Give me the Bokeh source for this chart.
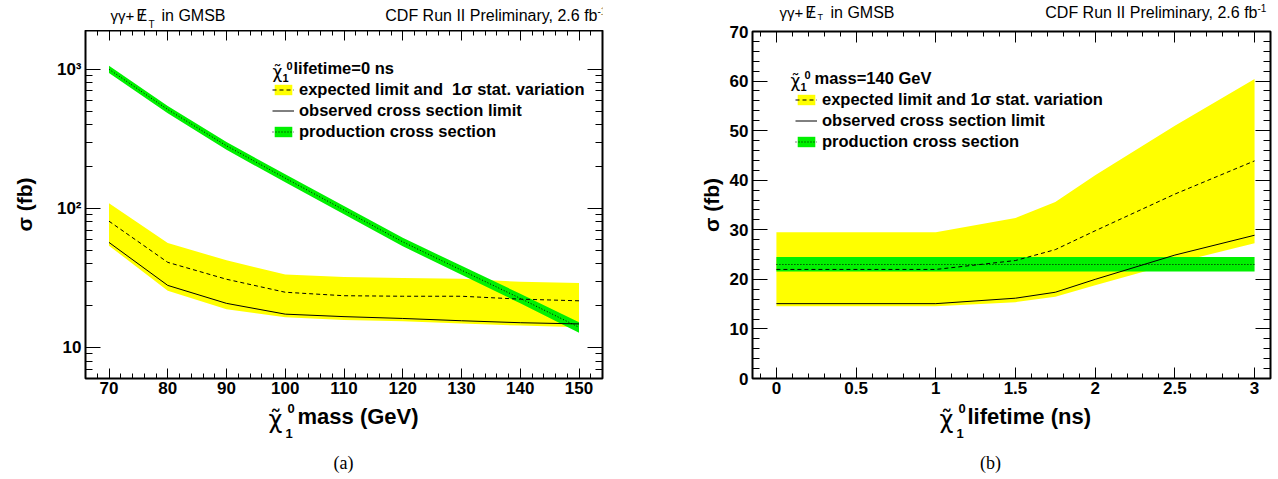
import math
from bokeh.plotting import figure
from bokeh.models import (Label, Legend, LegendItem, LinearAxis, LogAxis, FixedTicker,
                          SingleIntervalTicker, NumeralTickFormatter, Range1d,
                          CustomJSTickFormatter)
from bokeh.layouts import row, column
from bokeh.embed import file_html
from bokeh.resources import INLINE

# ---------------- data: (a) limits vs neutralino mass, lifetime = 0 ns ----------------
mass = [70, 80, 90, 100, 110, 120, 130, 140, 150]
mass_expected = [81, 41, 31, 25, 23.6, 23.4, 23.4, 22.3, 21.7]
mass_observed = [57, 28, 20.8, 17.4, 16.7, 16.2, 15.6, 15.1, 14.8]
mass_exp_hi = [109, 56.5, 42.4, 33.6, 32.2, 31.6, 31.2, 29.7, 29.1]
mass_exp_lo = [54, 25.6, 18.9, 16.5, 15.8, 15.5, 14.9, 14.4, 14.0]
mass_prod = [1000, 514, 282, 165, 97.5, 57.5, 36, 22.6, 14.0]
mass_prod_hi = [1060, 545, 300, 176, 104, 61.5, 38.7, 24.4, 15.2]
mass_prod_lo = [940, 483, 264, 154, 91, 53.5, 33.4, 20.8, 12.8]

# ---------------- data: (b) limits vs neutralino lifetime, mass = 140 GeV ----------------
life = [0, 1, 1.5, 1.75, 2, 2.5, 3]
life_expected = [22.0, 22.0, 23.8, 26.0, 29.8, 37.2, 43.9]
life_observed = [15.1, 15.1, 16.2, 17.4, 20.0, 24.9, 28.9]
life_exp_hi = [29.5, 29.5, 32.4, 35.6, 41.0, 51.0, 60.4]
life_exp_lo = [14.6, 14.6, 15.4, 16.5, 18.8, 23.3, 27.3]
life_prod = [23.0, 23.0, 23.0, 23.0, 23.0, 23.0, 23.0]
life_prod_hi = [24.5, 24.5, 24.5, 24.5, 24.5, 24.5, 24.5]
life_prod_lo = [21.6, 21.6, 21.6, 21.6, 21.6, 21.6, 21.6]

# tick definitions
log_major = [10, 100, 1000]
log_minor = [6, 7, 8, 9, 20, 30, 40, 50, 60, 70, 80, 90,
             200, 300, 400, 500, 600, 700, 800, 900]
log_labels = {10: "10", 100: "10\u00b2", 1000: "10\u00b3"}

ylabel = "\u03c3 (fb)"
lumi_text = "CDF Run II Preliminary, 2.6 fb"
chi = "\u03c7\u0303"

FONT = "Liberation Sans"
CHI_FONT = "DejaVu Sans"
TOTAL_H = 479
FRAME_TOP = 31
FRAME_BOT = 378
BOT_BORDER = 23
FOOT_Y0 = FRAME_BOT + BOT_BORDER
FOOT_H = TOTAL_H - FOOT_Y0


def style_axis(ax, major_in, minor_in, labels=True):
    ax.axis_label = None
    ax.major_tick_in = major_in
    ax.major_tick_out = 0
    ax.minor_tick_in = minor_in
    ax.minor_tick_out = 0
    ax.axis_line_color = "black"
    ax.major_tick_line_color = "black"
    ax.minor_tick_line_color = "black"
    ax.major_label_text_font = FONT
    ax.major_label_text_font_style = "bold"
    ax.major_label_text_color = "black"
    if labels:
        ax.major_label_text_font_size = "17px"
        ax.major_label_standoff = 3
    else:
        ax.major_label_text_font_size = "1px"
        ax.formatter = CustomJSTickFormatter(code="return ''")
        ax.major_label_standoff = 0


def make_main(width, head_h, top_border, fl, fr, xr, yr, log):
    p = figure(width=width, height=FOOT_Y0 - head_h, x_range=xr, y_range=yr,
               y_axis_type="log" if log else "linear",
               output_backend="svg", toolbar_location=None,
               min_border_left=fl, min_border_right=fr,
               min_border_top=top_border, min_border_bottom=BOT_BORDER)
    p.xgrid.visible = False
    p.ygrid.visible = False
    p.outline_line_color = "black"
    p.outline_line_width = 2
    p.background_fill_color = "white"
    p.border_fill_color = "white"
    return p


def make_strip(width, height):
    s = figure(width=width, height=height, x_range=Range1d(0, 1), y_range=Range1d(0, 1),
               x_axis_location=None, y_axis_location=None,
               output_backend="svg", toolbar_location=None, min_border=0)
    s.xgrid.visible = False
    s.ygrid.visible = False
    s.outline_line_color = None
    s.background_fill_color = "white"
    s.border_fill_color = "white"
    return s


class TextPlacer:
    """Places texts in canvas pixels; (rx, ry) are page pixels."""

    def __init__(self, p, x0, y0):
        self.p, self.x0, self.y0 = p, x0, y0

    def __call__(self, rx, ry, text, size, bold=False, align="left", baseline="middle",
                 angle=0.0, font=FONT):
        self.p.add_layout(Label(x=rx - self.x0, y=ry - self.y0, x_units="canvas",
                                y_units="canvas", text=text, text_font=font,
                                text_font_size=f"{size}px",
                                text_font_style="bold" if bold else "normal",
                                text_align=align, text_baseline=baseline, angle=angle,
                                text_color="black"))


def chi_symbol(t, x, y, size, sup_dx, sub_dx, sup_dy, sub_dy, idx_size):
    # chi with tilde accent, subscript 1 and superscript 0 stacked
    t(x, y, chi, size, font=CHI_FONT)
    t(x + sup_dx, y + sup_dy, "0", idx_size, bold=True)
    t(x + sub_dx, y + sub_dy, "1", idx_size, bold=True)


def header(t, x, y, right_x, sub_dy, sub_size):
    t(x, y, "\u03b3\u03b3+", 15)
    t(x + 26, y, "E", 16)
    t(x + 31.5, y, "/", 16, align="center")
    t(x + 38, y + sub_dy, "T", sub_size)
    t(x + 51, y, "in GMSB", 16)
    t(right_x - 9, y, lumi_text, 16, align="right")
    t(right_x - 9, y - 5, "-1", 10, align="left")


def make_legend(p, items, loc):
    leg = Legend(items=items, location=loc, background_fill_alpha=0, border_line_color=None,
                 padding=0, margin=0, spacing=2, glyph_width=22, glyph_height=13,
                 label_height=18, label_standoff=5, label_text_font=FONT,
                 label_text_font_style="bold", label_text_font_size="16.5px",
                 label_text_color="black")
    p.add_layout(leg)


def set_ylabel(ax, standoff):
    ax.axis_label = ylabel
    ax.axis_label_text_font = FONT
    ax.axis_label_text_font_style = "bold"
    ax.axis_label_text_font_size = "21px"
    ax.axis_label_text_color = "black"
    ax.axis_label_standoff = standoff


# ======================= (a) =======================
WA = 648
HEAD_A = 30
x0a, x1a, y0a, y1a = 66, 154, 6, 1900
p1 = make_main(WA, HEAD_A, 0, 85, 46, Range1d(x0a, x1a), Range1d(y0a, y1a), True)
xt_a = SingleIntervalTicker(interval=10, num_minor_ticks=5)
yt_a = FixedTicker(ticks=log_major, minor_ticks=log_minor)
p1.xaxis[0].ticker = xt_a
p1.yaxis[0].ticker = yt_a
p1.yaxis[0].major_label_overrides = log_labels
style_axis(p1.xaxis[0], 10, 5)
style_axis(p1.yaxis[0], 15, 7)
p1.yaxis[0].major_label_standoff = 4
set_ylabel(p1.yaxis[0], 18)
top_a = LinearAxis(ticker=xt_a)
style_axis(top_a, 10, 5, labels=False)
p1.add_layout(top_a, "above")
right_a = LogAxis(ticker=yt_a)
style_axis(right_a, 15, 7, labels=False)
p1.add_layout(right_a, "right")

ra_band = p1.varea(x=mass, y1=mass_exp_lo, y2=mass_exp_hi, fill_color="#ffff00")
ra_prodband = p1.varea(x=mass, y1=mass_prod_lo, y2=mass_prod_hi, fill_color="#00f000")
ra_prod = p1.line(mass, mass_prod, line_color="black", line_width=1, line_dash="1 2")
ra_exp = p1.line(mass, mass_expected, line_color="black", line_width=1, line_dash="4 3")
ra_obs = p1.line(mass, mass_observed, line_color="black", line_width=1)

make_legend(p1, [
    LegendItem(label="expected limit and  1\u03c3 stat. variation", renderers=[ra_band, ra_exp]),
    LegendItem(label="observed cross section limit", renderers=[ra_obs]),
    LegendItem(label="production cross section", renderers=[ra_prodband, ra_prod]),
], (187, 237))

ha = make_strip(WA, HEAD_A)
fa = make_strip(WA, FOOT_H)
header(TextPlacer(ha, 0, 0), 110, 15, 606, 9, 10)
tm = TextPlacer(p1, 0, HEAD_A)
chi_symbol(tm, 272, 71, 17, 14, 10, -6, 6, 11)
tm(293, 67, "lifetime=0 ns", 16.5, bold=True)
tf = TextPlacer(fa, 0, FOOT_Y0)
chi_symbol(tf, 268, 419, 24, 19, 17, -11, 14, 13)
tf(297, 416, "mass (GeV)", 22, bold=True)
tf(343, 462, "(a)", 18, align="center", font="Liberation Serif")

# ======================= (b) =======================
WB = 630
HEAD_B = 22
x0b, x1b, y0b, y1b = -0.15, 3.1, 0, 70
p2 = make_main(WB, HEAD_B, FRAME_TOP - HEAD_B, 104, 8, Range1d(x0b, x1b),
               Range1d(y0b, y1b), False)
xt_b = SingleIntervalTicker(interval=0.5, num_minor_ticks=5)
yt_b = SingleIntervalTicker(interval=10, num_minor_ticks=5)
p2.xaxis[0].ticker = xt_b
p2.yaxis[0].ticker = yt_b
style_axis(p2.xaxis[0], 11, 5)
style_axis(p2.yaxis[0], 15, 7)
p2.yaxis[0].major_label_standoff = 4
p2.xaxis[0].formatter = NumeralTickFormatter(format="0.[0]")
set_ylabel(p2.yaxis[0], 4)
top_b = LinearAxis(ticker=xt_b)
style_axis(top_b, 11, 5, labels=False)
p2.add_layout(top_b, "above")
right_b = LinearAxis(ticker=yt_b)
style_axis(right_b, 15, 7, labels=False)
p2.add_layout(right_b, "right")

rb_band = p2.varea(x=life, y1=life_exp_lo, y2=life_exp_hi, fill_color="#ffff00")
rb_prodband = p2.varea(x=life, y1=life_prod_lo, y2=life_prod_hi, fill_color="#00f000")
rb_prod = p2.line(life, life_prod, line_color="black", line_width=1, line_dash="1 2")
rb_exp = p2.line(life, life_expected, line_color="black", line_width=1, line_dash="4 3")
rb_obs = p2.line(life, life_observed, line_color="black", line_width=1)

make_legend(p2, [
    LegendItem(label="expected limit and 1\u03c3 stat. variation", renderers=[rb_band, rb_exp]),
    LegendItem(label="observed cross section limit", renderers=[rb_obs]),
    LegendItem(label="production cross section", renderers=[rb_prodband, rb_prod]),
], (43, 227))

hb = make_strip(WB, HEAD_B)
fb = make_strip(WB, FOOT_H)
header(TextPlacer(hb, WA, 0), 779, 12, 1266, 4.5, 9)
tm = TextPlacer(p2, WA, HEAD_B)
chi_symbol(tm, 790, 80, 17, 14, 10, -6, 6, 11)
tm(814, 77, "mass=140 GeV", 16.5, bold=True)
tf = TextPlacer(fb, WA, FOOT_Y0)
chi_symbol(tf, 939, 419, 24, 19, 17, -11, 14, 13)
tf(967, 416, "lifetime (ns)", 22, bold=True)
tf(990, 462, "(b)", 18, align="center", font="Liberation Serif")

layout = row(column(ha, p1, fa), column(hb, p2, fb))
open("out.html", "w").write(file_html(layout, INLINE))
